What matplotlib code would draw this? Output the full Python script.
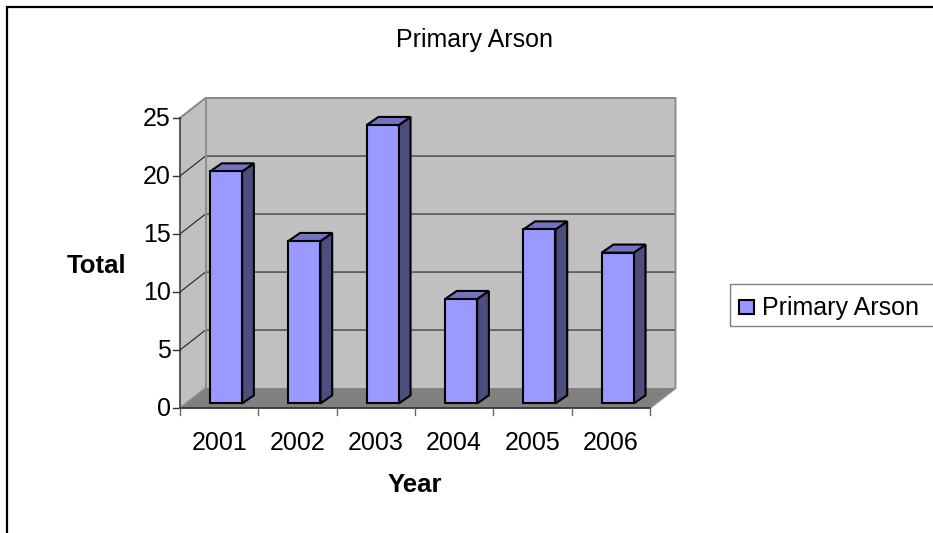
import matplotlib
matplotlib.use("Agg")
import matplotlib.pyplot as plt
from matplotlib.patches import Polygon, Rectangle
from matplotlib.lines import Line2D

plt.rcParams['font.family'] = ['Liberation Sans', 'DejaVu Sans']

years = ['2001', '2002', '2003', '2004', '2005', '2006']
totals = [20, 14, 24, 9, 15, 13]
y_ticks = [0, 5, 10, 15, 20, 25]
series_name = 'Primary Arson'

W, H = 933, 533
fig = plt.figure(figsize=(W / 100, H / 100), dpi=100, facecolor='white')
ax = fig.add_axes([180 / W, (H - 408) / H, 470 / W, 290 / H])
ax.set_xlim(0, len(years))
ax.set_ylim(0, 25)
ax.axis('off')

# depth of the fake 3d box, in data units
wall_dx = 25.5 / 78.33
wall_dy = 1.72
top = y_ticks[-1]
n = len(years)

def poly(pts, fc, ec='none', lw=0, z=1):
    ax.add_patch(Polygon(pts, closed=True, facecolor=fc, edgecolor=ec, linewidth=lw,
                         zorder=z, clip_on=False, joinstyle='miter'))

# walls and floor
poly([(wall_dx, wall_dy), (n + wall_dx, wall_dy), (n + wall_dx, top + wall_dy), (wall_dx, top + wall_dy)], '#c0c0c0', z=1)
poly([(0, 0), (wall_dx, wall_dy), (wall_dx, top + wall_dy), (0, top)], '#c0c0c0', z=1)
poly([(0, 0), (n, 0), (n + wall_dx, wall_dy), (wall_dx, wall_dy)], '#808080', z=1)

# gridlines
for v in y_ticks[1:]:
    ax.plot([0, wall_dx, n + wall_dx], [v, v + wall_dy, v + wall_dy], color='#222222', lw=0.8, zorder=2, clip_on=False)

# wall outlines
ax.plot([0, wall_dx, n + wall_dx, n + wall_dx, n], [top, top + wall_dy, top + wall_dy, wall_dy, 0],
        color='#8c8c8c', lw=1.4, zorder=3, clip_on=False, solid_joinstyle='miter')
ax.plot([wall_dx, wall_dx], [wall_dy, top + wall_dy], color='#8c8c8c', lw=1.4, zorder=3, clip_on=False)
ax.plot([0, wall_dx], [0, wall_dy], color='#8c8c8c', lw=1.2, zorder=3, clip_on=False)

# bars
bar_w = 0.41
shift_x = 0.088
shift_y = 0.39
bar_dx = 0.15
bar_dy = 0.70
for i, val in enumerate(totals):
    x0 = i + 0.5 - bar_w / 2 + shift_x
    x1 = x0 + bar_w
    y0 = shift_y
    y1 = val + shift_y
    poly([(x1, y0), (x1 + bar_dx, y0 + bar_dy), (x1 + bar_dx, y1 + bar_dy), (x1, y1)], '#4d4d80', 'black', 1.5, z=5)
    poly([(x0, y1), (x1, y1), (x1 + bar_dx, y1 + bar_dy), (x0 + bar_dx, y1 + bar_dy)], '#7373bf', 'black', 1.5, z=5)
    poly([(x0, y0), (x1, y0), (x1, y1), (x0, y1)], '#9999ff', 'black', 1.5, z=6)

# front axes lines and ticks
ax.plot([0, 0], [0, top], color='#4d4d4d', lw=1.3, zorder=4, clip_on=False)
ax.plot([0, n], [0, 0], color='#333333', lw=1.3, zorder=4, clip_on=False)
for v in y_ticks:
    ax.plot([-0.09, 0], [v, v], color='#333333', lw=1.0, zorder=4, clip_on=False)
    ax.annotate(str(v), (0, v), xytext=(-9, -1), textcoords='offset pixels', ha='right', va='center', fontsize=18, color='black')
for i in range(n + 1):
    ax.plot([i, i], [0, -0.6], color='#666666', lw=1.0, zorder=4, clip_on=False)
for i, lab in enumerate(years):
    ax.text(i + 0.5, -3.0, lab, ha='center', va='center', fontsize=18, color='black')

# labels
fig.text(415 / W, 1 - 485 / H, 'Year', ha='center', va='center', fontsize=18.5, fontweight='bold')
fig.text(96.5 / W, 1 - 266 / H, 'Total', ha='center', va='center', fontsize=18.5, fontweight='bold')
fig.text(474 / W, 1 - 40 / H, series_name, ha='center', va='center', fontsize=18)

# legend
fig.add_artist(Rectangle((729.5 / W, 1 - 326 / H), 204 / W, 42 / H, transform=fig.transFigure,
                         facecolor='white', edgecolor='#808080', linewidth=1.0))
fig.add_artist(Rectangle((739 / W, 1 - 314 / H), 15 / W, 14 / H, transform=fig.transFigure,
                         facecolor='#9999ff', edgecolor='black', linewidth=1.5))
fig.text(762 / W, 1 - 308 / H, series_name, ha='left', va='center', fontsize=18)

# outer frame, only top and left show
fig.add_artist(Line2D([7.5 / W, 7.5 / W, 1], [0, 1 - 6.5 / H, 1 - 6.5 / H], transform=fig.transFigure,
                      color='black', lw=1.6, solid_joinstyle='miter'))

fig.savefig('out.png', dpi=100)
